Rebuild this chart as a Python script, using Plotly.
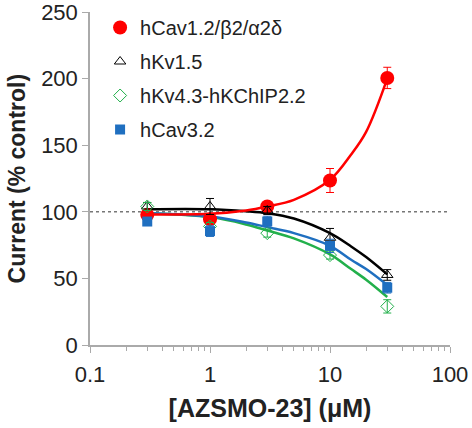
import plotly.graph_objects as go

conc = [0.3, 1, 3, 10, 30]

cav12 = [97.7, 94.5, 104, 123.5, 200.5]
cav12_err = [3, 4, 3, 9, 8]
kv15 = [104, 104, 101, 80.5, 52.6]
kv15_err = [3, 6, 3, 7, 4]
kv43 = [104, 89, 84, 67.5, 29]
kv43_err = [3, 3, 3, 3, 5]
cav32 = [92.7, 85.5, 92.7, 74.4, 43]
cav32_err = [3, 4, 4, 5, 4]

fit_x = [0.3, 1, 2, 3, 5, 10, 15, 20, 30]
fit_cav12 = [98, 98.5, 101, 104, 109, 124, 143, 160, 200]
fit_kv15 = [102, 102, 100.5, 99, 95, 84, 74, 66, 53]
fit_kv43 = [99, 96, 90.5, 86, 80, 68, 57, 49, 36]
fit_cav32 = [99, 96.5, 92, 88.5, 84, 74.5, 64, 57, 45]

x_ticks = [0.1, 1, 10, 100]
x_tick_text = ["0.1", "1", "10", "100"]
y_ticks = [0, 50, 100, 150, 200, 250]

names = ["hCav1.2/β2/α2δ", "hKv1.5", "hKv4.3-hKChIP2.2", "hCav3.2"]
colors = ["#ff0000", "#000000", "#22b04b", "#1f6fc0"]

fig = go.Figure()

for fy, c in [(fit_kv43, colors[2]), (fit_cav32, colors[3]), (fit_kv15, colors[1]), (fit_cav12, colors[0])]:
    fig.add_trace(go.Scatter(x=fit_x, y=fy, mode="lines", line=dict(color=c, width=2.5, shape="spline"),
                             showlegend=False, hoverinfo="skip"))

series = [
    (cav12, cav12_err, names[0], colors[0], dict(symbol="circle", size=14, color=colors[0])),
    (kv15, kv15_err, names[1], colors[1], dict(symbol="triangle-up-open", size=10, color=colors[1], line=dict(width=1))),
    (kv43, kv43_err, names[2], colors[2], dict(symbol="diamond-open", size=10, color=colors[2], line=dict(width=1))),
    (cav32, cav32_err, names[3], colors[3], dict(symbol="square", size=10, color=colors[3])),
]
for i, (y, e, n, c, m) in enumerate(series):
    fig.add_trace(go.Scatter(x=conc, y=y, mode="markers", name=n, marker=m, legendgroup="g%d" % i,
                             error_y=dict(type="data", array=e, color=c, thickness=1, width=4)))

fig.add_shape(type="line", xref="paper", yref="y", x0=0, x1=1, y0=100, y1=100,
              line=dict(color="#777777", width=1.5, dash="dot"), layer="below")

fig.add_annotation(text="<b>Current (% control)</b>", textangle=-90, xref="paper", yref="paper",
                   x=-0.203, y=0.5, xanchor="center", yanchor="middle", showarrow=False,
                   font=dict(size=23, color="#222222"))

fig.update_layout(
    width=472, height=428,
    margin=dict(l=90, r=22, t=12, b=83, autoexpand=False),
    paper_bgcolor="white", plot_bgcolor="white",
    font=dict(family="Liberation Sans, Arial, sans-serif", color="#222222"),
    showlegend=True,
    legend=dict(x=0.028, y=1.012, xanchor="left", yanchor="top", bgcolor="rgba(0,0,0,0)",
                font=dict(size=20, color="#222222"), itemsizing="trace", tracegroupgap=5,
                traceorder="grouped"),
    xaxis=dict(type="log", range=[-1, 2], showgrid=False, zeroline=False, automargin=False,
               showline=True, linecolor="#aaaaaa", linewidth=1.5,
               ticks="outside", ticklen=6, tickcolor="#aaaaaa", ticklabeloverflow="allow",
               ticklabelstandoff=3,
               tickvals=x_ticks, ticktext=x_tick_text,
               tickfont=dict(size=22),
               minor=dict(ticks="outside", ticklen=4, tickcolor="#aaaaaa",
                          tickvals=[v * d for d in [0.1, 1, 10] for v in range(2, 10)]),
               title=dict(text="<b>[AZSMO-23] (μM)</b>", font=dict(size=25), standoff=13)),
    yaxis=dict(range=[0, 250], showgrid=False, zeroline=False, automargin=False,
               showline=True, linecolor="#aaaaaa", linewidth=1.5,
               ticks="outside", ticklen=6, tickcolor="#aaaaaa", ticklabeloverflow="allow",
               tickvals=y_ticks, tickfont=dict(size=22)),
)

# remove the browser's default 8px body margin so the figure fills the window
fig.write_html("out.html", config={"displayModeBar": False},
               post_script="document.body.style.margin='0';")
